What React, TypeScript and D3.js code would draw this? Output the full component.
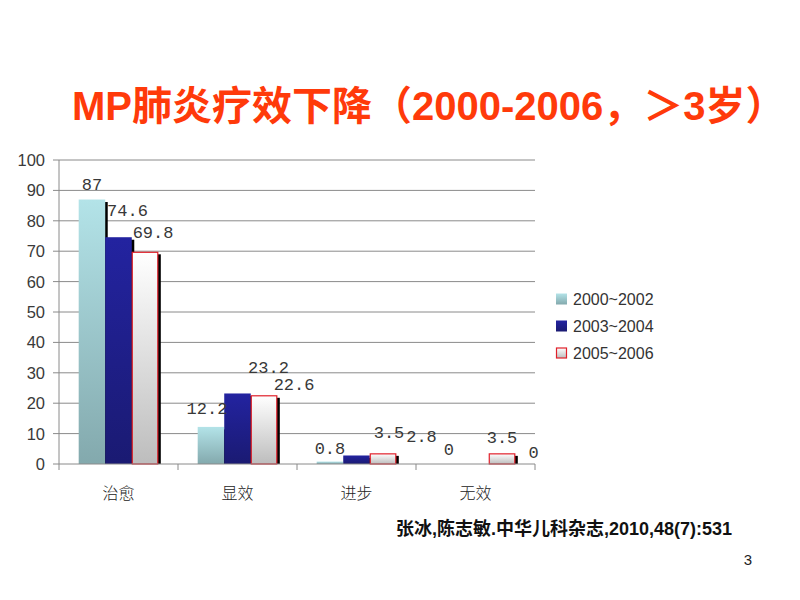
import React from "react";
import * as d3 from "d3";

const categories = ["治愈", "显效", "进步", "无效"];
const seriesNames = ["2000~2002", "2003~2004", "2005~2006"];
const s2000 = [87, 12.2, 0.8, 0];
const s2003 = [74.6, 23.2, 2.8, 0];
const s2005 = [69.8, 22.6, 3.5, 3.5];
const seriesValues = [s2000, s2003, s2005];
const yTicks = [0, 10, 20, 30, 40, 50, 60, 70, 80, 90, 100];
// label nudges (dx from bar centre, rise above bar top) as in the original slide
const labelNudge = [
  [[0, 9.5], [-4, 13], [0, 8], [0, 9]],
  [[9, 21], [31, 20], [65, 13], [58, 6]],
  [[8, 14], [30, 5], [6, 15], [0, 10]],
];

const W = 800;
const H = 600;
const left = 59;
const right = 535;
const top = 160;
const bottom = 464;

export default function App() {
  const x = d3.scaleBand<string>().domain(categories).range([left, right]).padding(0);
  const y = d3.scaleLinear().domain([0, 100]).range([bottom, top]);
  const bw = x.bandwidth();
  const barW = bw * 0.223;
  const groupOff = (bw - barW * 3) / 2;

  const fills = ["url(#gCyan)", "url(#gBlue)", "url(#gWhite)"];
  const strokes = ["none", "none", "#e0202a"];
  const labelFont = "'Liberation Mono', 'DejaVu Sans Mono', monospace";
  const sans = "'Liberation Sans', Arial, 'Noto Sans CJK SC', sans-serif";

  const bars: React.ReactNode[] = [];
  const labels: React.ReactNode[] = [];
  categories.forEach((c, ci) => {
    seriesValues.forEach((vals, si) => {
      const v = vals[ci];
      const bx = (x(c) as number) + groupOff + si * barW;
      const by = y(v);
      const h = bottom - by;
      if (h > 0) {
        bars.push(
          <g key={`b-${ci}-${si}`}>
            <rect x={bx + 2.5} y={by + 2.5} width={barW} height={Math.max(0, h - 2.5)} fill="#000" />
            <rect
              x={bx + (si === 2 ? 0.5 : 0)}
              y={by + (si === 2 ? 0.5 : 0)}
              width={barW - (si === 2 ? 1 : 0)}
              height={h - (si === 2 ? 0.5 : 0)}
              fill={fills[si]}
              stroke={strokes[si]}
              strokeWidth={1.2}
            />
          </g>
        );
      }
      const [dx, rise] = labelNudge[si][ci];
      labels.push(
        <text
          key={`l-${ci}-${si}`}
          x={bx + barW / 2 + dx}
          y={by - rise}
          textAnchor="middle"
          fontFamily={labelFont}
          fontSize={17}
          fill="#383838"
        >
          {v}
        </text>
      );
    });
  });

  return (
    <svg
      width={W}
      height={H}
      viewBox={`0 0 ${W} ${H}`}
      style={{ position: "absolute", left: 0, top: 0, background: "#fff" }}
    >
      <defs>
        <linearGradient id="gCyan" x1="0" y1="0" x2="0" y2="1">
          <stop offset="0" stopColor="#b3e3e8" />
          <stop offset="1" stopColor="#83a9ad" />
        </linearGradient>
        <linearGradient id="gBlue" x1="0" y1="0" x2="0" y2="1">
          <stop offset="0" stopColor="#2323a0" />
          <stop offset="1" stopColor="#1a1a72" />
        </linearGradient>
        <linearGradient id="gWhite" x1="0" y1="0" x2="0" y2="1">
          <stop offset="0" stopColor="#ffffff" />
          <stop offset="1" stopColor="#bdbdbd" />
        </linearGradient>
      </defs>
      <rect x={0} y={0} width={W} height={H} fill="#fff" />

      <text
        x={72}
        y={120}
        fontFamily="'Liberation Sans', Arial, 'Noto Sans CJK SC', sans-serif"
        fontWeight="bold"
        fontSize={40}
        fill="#ff3a0a"
      >
        MP肺炎疗效下降（2000-2006，＞3岁）
      </text>

      {/* grid and y ticks */}
      {yTicks.map((t) => (
        <g key={`t-${t}`}>
          {t > 0 && <line x1={53} x2={right} y1={y(t)} y2={y(t)} stroke="#8a8a8a" strokeWidth={1} />}
          {t === 0 && <line x1={53} x2={left} y1={y(t)} y2={y(t)} stroke="#8a8a8a" strokeWidth={1} />}
          <text x={45} y={y(t)} dy="0.36em" textAnchor="end" fontFamily={sans} fontSize={16.5} fill="#3a3a3a">
            {t}
          </text>
        </g>
      ))}
      <line x1={left} x2={left} y1={top} y2={bottom} stroke="#8a8a8a" strokeWidth={1} />

      {bars}

      {/* x axis */}
      <line x1={left} x2={right} y1={bottom} y2={bottom} stroke="#8a8a8a" strokeWidth={1} />
      {categories.map((c, i) => (
        <line key={`xt-${i}`} x1={(x(c) as number) + bw} x2={(x(c) as number) + bw} y1={bottom} y2={bottom + 6} stroke="#8a8a8a" />
      ))}
      <line x1={left} x2={left} y1={bottom} y2={bottom + 6} stroke="#8a8a8a" />
      {categories.map((c) => (
        <text
          key={`xl-${c}`}
          x={(x(c) as number) + bw / 2}
          y={499}
          textAnchor="middle"
          fontFamily="'Noto Sans CJK SC', sans-serif"
          fontWeight={300}
          fontSize={16}
          fill="#222"
        >
          {c}
        </text>
      ))}

      {labels}

      {/* legend */}
      {seriesNames.map((n, i) => (
        <g key={`lg-${n}`} transform={`translate(556, ${299 + i * 27})`}>
          <rect
            x={i === 2 ? 0.5 : 0}
            y={-5.5 + (i === 2 ? 0.5 : 0)}
            width={i === 2 ? 10 : 11}
            height={i === 2 ? 10 : 11}
            fill={fills[i]}
            stroke={strokes[i]}
            strokeWidth={1.2}
          />
          <text x={17} y={0} dy="0.36em" fontFamily={sans} fontSize={16} fill="#333">
            {n}
          </text>
        </g>
      ))}

      <text
        x={396}
        y={535}
        fontFamily="'Liberation Sans', Arial, 'Noto Sans CJK SC', sans-serif"
        fontWeight="bold"
        fontSize={18}
        fill="#111"
      >
        张冰,陈志敏.中华儿科杂志,2010,48(7):531
      </text>
      <text x={752} y={565} textAnchor="end" fontFamily={sans} fontSize={15} fill="#222">
        3
      </text>
    </svg>
  );
}
